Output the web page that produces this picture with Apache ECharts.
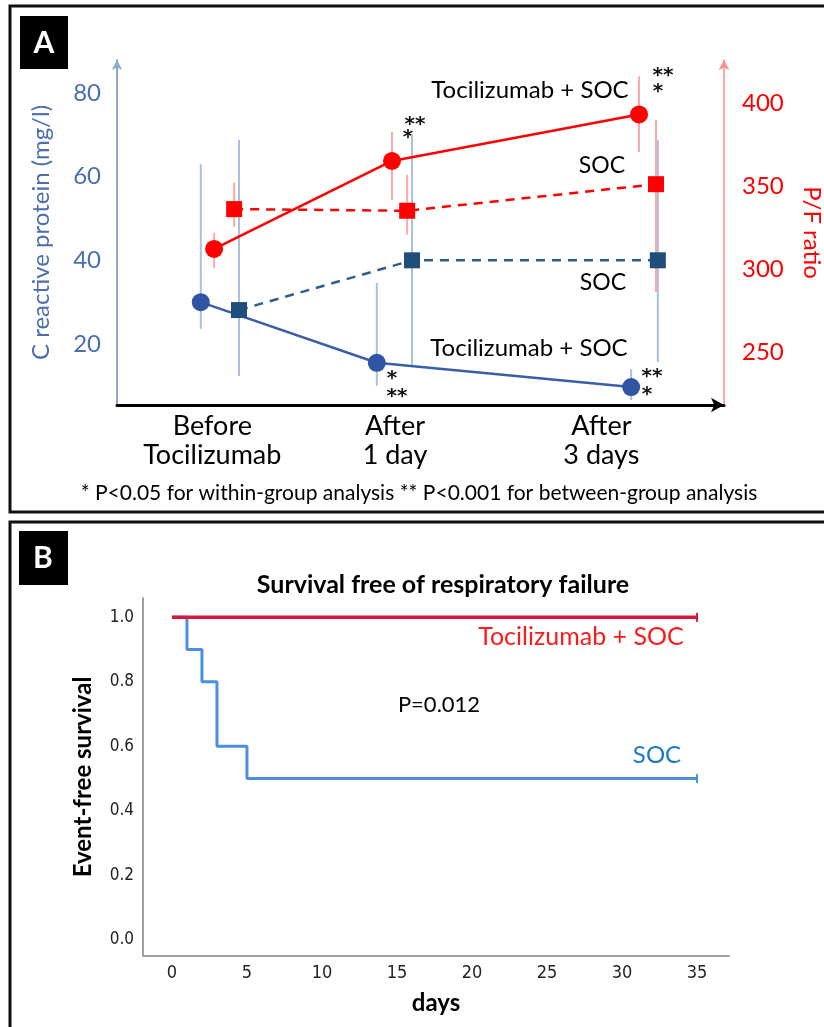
<!DOCTYPE html>
<html>
<head>
<meta charset="utf-8">
<script src="https://cdn.jsdelivr.net/npm/echarts@6.0.0/dist/echarts.min.js"></script>
<style>
html, body { margin: 0; padding: 0; background: #fff; }
#chart { width: 824px; height: 1027px; }
</style>
</head>
<body>
<div id="chart"></div>
<script>
// ---- Panel A data ----
const timepoints = ['Before\nTocilizumab', 'After\n1 day', 'After\n3 days'];

// C reactive protein (mg/l), mean with error bar ends
const crpToci = [30, 15.5, 9.7];
const crpTociLow = [23.6, 10, 6.6];
const crpTociHigh = [63, 34.6, 14];
const crpSoc = [28.1, 40, 40];
const crpSocLow = [12.3, 15, 15.7];
const crpSocHigh = [68.8, 70, 68.8];

// P/F ratio
const pfToci = [312, 365, 393];
const pfTociLow = [300.6, 341.6, 370.5];
const pfTociHigh = [321.7, 382.5, 416];
const pfSoc = [336, 335, 351];
const pfSocLow = [325.3, 320.5, 286];
const pfSocHigh = [351.8, 356.6, 389.8];

const crpTicks = [20, 40, 60, 80];
const pfTicks = [250, 300, 350, 400];

// ---- Panel B data (Kaplan-Meier) ----
const socDays = [0, 1, 2, 3, 5, 35];
const socSurvival = [1, 0.9, 0.8, 0.6, 0.5, 0.5];
const tociDays = [0, 35];
const tociSurvival = [1, 1];
const dayTicks = [0, 5, 10, 15, 20, 25, 30, 35];
const survivalTicks = [0, 0.2, 0.4, 0.6, 0.8, 1.0];

// layout of panel A along a 0..100 horizontal scale (hand-drawn spacing)
const groupX = [16, 45.3, 86];
const labelX = [15.7, 45.8, 79.8];
const shift = {
  crpToci: [-2.2, -2.5, -1.3],
  pfToci: [0, 0, 0],
  pfSoc: [3.3, 2.5, 2.8],
  crpSoc: [4.1, 3.3, 3.1],
};

const FONT = 'Lato, "Open Sans", sans-serif';
const CONDENSED = '"DejaVu Sans Condensed", "DejaVu Sans", sans-serif';
const blueAxis = '#4a6fae';
const red = '#ff0000';

const xsFor = (key) => groupX.map((g, i) => g + shift[key][i]);
const pts = (xs, ys) => xs.map((x, i) => [x, ys[i]]);

// vertical error bars drawn through the axes
const errorBars = (xs, lows, highs, yAxisIndex, color) => ({
  type: 'custom',
  xAxisIndex: 0,
  yAxisIndex: yAxisIndex,
  z: 1,
  silent: true,
  data: xs.map((x, i) => [x, lows[i], highs[i]]),
  renderItem: (params, api) => {
    const a = api.coord([api.value(0), api.value(1)]);
    const b = api.coord([api.value(0), api.value(2)]);
    return {
      type: 'line',
      shape: { x1: a[0], y1: a[1], x2: b[0], y2: b[1] },
      style: { stroke: color, lineWidth: 2 },
    };
  },
});

const text = (str, x, y, size, color, weight, family) => ({
  type: 'text',
  x: x,
  y: y,
  style: {
    text: str,
    fill: color || '#000',
    font: (weight || 'normal') + ' ' + size + 'px ' + (family || FONT),
    align: 'center',
    verticalAlign: 'middle',
  },
});
const star = (str, x, y) => text(str, x, y + 4, 20, '#111', 'bold', '"DejaVu Sans", sans-serif');

// km series with a censor tick on the last point
const kmData = (days, surv) =>
  days.map((d, i) =>
    i === days.length - 1
      ? { value: [d, surv[i]], symbol: 'rect', symbolSize: [2, 9] }
      : { value: [d, surv[i]], symbol: 'none' }
  );

const chart = echarts.init(document.getElementById('chart'));

const option = {
  animation: false,
  backgroundColor: '#fff',
  grid: [
    { left: 117, right: 100, top: 60, bottom: 622, outerBoundsMode: 'none' }, // panel A
    { left: 143, right: 95, top: 598, bottom: 71, outerBoundsMode: 'none' }, // panel B
  ],
  xAxis: [
    {
      type: 'value',
      gridIndex: 0,
      min: 0,
      max: 100,
      splitLine: { show: false },
      axisTick: { show: false },
      axisLine: {
        onZero: false,
        lineStyle: { color: '#000', width: 3 },
        symbol: ['none', 'arrow'],
        symbolSize: [11, 13],
      },
      axisLabel: {
        customValues: labelX,
        formatter: (v) => {
          let best = 0;
          labelX.forEach((p, i) => {
            if (Math.abs(p - v) < Math.abs(labelX[best] - v)) best = i;
          });
          return timepoints[best];
        },
        color: '#000',
        fontFamily: FONT,
        fontSize: 27,
        lineHeight: 29,
        margin: 7,
      },
    },
    {
      type: 'value',
      gridIndex: 1,
      min: -1.93,
      max: 37.13,
      splitLine: { show: false },
      axisTick: { show: false },
      axisLine: { onZero: false, lineStyle: { color: '#a0a0a0', width: 2 } },
      axisLabel: {
        customValues: dayTicks,
        color: '#222',
        fontFamily: CONDENSED,
        fontSize: 18,
        margin: 8,
      },
      name: 'days',
      nameLocation: 'middle',
      nameGap: 35,
      nameTextStyle: { color: '#000', fontFamily: FONT, fontSize: 24, fontWeight: 'bold' },
    },
  ],
  yAxis: [
    {
      type: 'value',
      gridIndex: 0,
      min: 5.4,
      max: 87.9,
      splitLine: { show: false },
      axisTick: { show: false },
      axisLine: {
        onZero: false,
        lineStyle: { color: '#8fa8cc', width: 2 },
        symbol: ['none', 'arrow'],
        symbolSize: [8, 10],
      },
      axisLabel: {
        customValues: crpTicks,
        color: blueAxis,
        fontFamily: FONT,
        fontSize: 24,
        margin: 16,
      },
      name: 'C reactive protein (mg/l)',
      nameLocation: 'middle',
      nameRotate: 90,
      nameGap: 64,
      nameTextStyle: { color: blueAxis, fontFamily: FONT, fontSize: 24 },
    },
    {
      type: 'value',
      gridIndex: 0,
      position: 'right',
      min: 218,
      max: 425.8,
      splitLine: { show: false },
      axisTick: { show: false },
      axisLine: {
        onZero: false,
        lineStyle: { color: '#ff8a8a', width: 1.5 },
        symbol: ['none', 'arrow'],
        symbolSize: [8, 10],
      },
      axisLabel: {
        customValues: pfTicks,
        color: red,
        fontFamily: FONT,
        fontSize: 24,
        margin: 18,
      },
      name: 'P/F ratio',
      nameLocation: 'middle',
      nameRotate: -90,
      nameGap: 76,
      nameTextStyle: { color: red, fontFamily: FONT, fontSize: 24 },
    },
    {
      type: 'value',
      gridIndex: 1,
      min: -0.05,
      max: 1.06,
      splitLine: { show: false },
      axisTick: { show: false },
      axisLine: { onZero: false, lineStyle: { color: '#a0a0a0', width: 2 } },
      axisLabel: {
        customValues: survivalTicks,
        formatter: (v) => v.toFixed(1),
        color: '#222',
        fontFamily: CONDENSED,
        fontSize: 17,
        margin: 9,
      },
      name: 'Event-free survival',
      nameLocation: 'middle',
      nameRotate: 90,
      nameGap: 48,
      nameTextStyle: { color: '#000', fontFamily: FONT, fontSize: 24, fontWeight: 'bold' },
    },
  ],
  series: [
    errorBars(xsFor('crpToci'), crpTociLow, crpTociHigh, 0, '#abc0dd'),
    errorBars(xsFor('crpSoc'), crpSocLow, crpSocHigh, 0, '#abc0dd'),
    errorBars(xsFor('pfToci'), pfTociLow, pfTociHigh, 1, '#ffa6a6'),
    errorBars(xsFor('pfSoc'), pfSocLow, pfSocHigh, 1, '#ffa6a6'),
    {
      name: 'CRP SOC',
      type: 'line',
      xAxisIndex: 0,
      yAxisIndex: 0,
      z: 3,
      data: pts(xsFor('crpSoc'), crpSoc),
      symbol: 'rect',
      symbolSize: 16,
      itemStyle: { color: '#1f4e79' },
      lineStyle: { color: '#2e5e8e', width: 2.5, type: [9, 7] },
    },
    {
      name: 'CRP Tocilizumab + SOC',
      type: 'line',
      xAxisIndex: 0,
      yAxisIndex: 0,
      z: 3,
      data: pts(xsFor('crpToci'), crpToci),
      symbol: 'circle',
      symbolSize: 18,
      itemStyle: { color: '#2f55a4' },
      lineStyle: { color: '#3a5ea8', width: 2.5 },
    },
    {
      name: 'P/F SOC',
      type: 'line',
      xAxisIndex: 0,
      yAxisIndex: 1,
      z: 4,
      data: pts(xsFor('pfSoc'), pfSoc),
      symbol: 'rect',
      symbolSize: 16,
      itemStyle: { color: red },
      lineStyle: { color: red, width: 2.5, type: [9, 7] },
    },
    {
      name: 'P/F Tocilizumab + SOC',
      type: 'line',
      xAxisIndex: 0,
      yAxisIndex: 1,
      z: 4,
      data: pts(xsFor('pfToci'), pfToci),
      symbol: 'circle',
      symbolSize: 18,
      itemStyle: { color: red },
      lineStyle: { color: red, width: 2.5 },
    },
    {
      name: 'SOC',
      type: 'line',
      xAxisIndex: 1,
      yAxisIndex: 2,
      step: 'end',
      z: 3,
      data: kmData(socDays, socSurvival),
      itemStyle: { color: '#4a90e2' },
      lineStyle: { color: '#4a90e2', width: 3 },
    },
    {
      name: 'Tocilizumab + SOC',
      type: 'line',
      xAxisIndex: 1,
      yAxisIndex: 2,
      z: 4,
      data: kmData(tociDays, tociSurvival),
      itemStyle: { color: '#d6173f' },
      lineStyle: { color: '#d6173f', width: 3.5 },
    },
  ],
  graphic: [
    // panel frames
    { type: 'rect', shape: { x: 10, y: 6, width: 840, height: 506 }, style: { fill: null, stroke: '#111', lineWidth: 3 } },
    { type: 'rect', shape: { x: 10, y: 522, width: 840, height: 540 }, style: { fill: null, stroke: '#111', lineWidth: 3 } },
    // panel letters
    { type: 'rect', shape: { x: 20, y: 16, width: 48, height: 53 }, style: { fill: '#000' } },
    text('A', 44, 43, 30, '#fff', 'bold'),
    { type: 'rect', shape: { x: 19, y: 531, width: 49, height: 54 }, style: { fill: '#000' } },
    text('B', 43, 558, 30, '#fff', 'bold'),
    // panel A annotations
    text('Tocilizumab + SOC', 530, 90, 24),
    text('SOC', 602, 166, 23),
    text('SOC', 603, 283, 23),
    text('Tocilizumab + SOC', 529, 348, 24),
    star('**', 415, 121),
    star('*', 408, 134),
    star('**', 663, 72),
    star('*', 658, 88),
    star('*', 392, 375),
    star('**', 397, 393),
    star('**', 652, 373),
    star('*', 647, 391),
    text('* P<0.05 for within-group analysis ** P<0.001 for between-group analysis', 419, 493, 21),
    // panel B annotations
    text('Survival free of respiratory failure', 443, 585, 25, '#000', 'bold'),
    text('Tocilizumab + SOC', 581, 637, 25, '#ff1a1a'),
    text('P=0.012', 439, 705, 22),
    text('SOC', 657, 755, 24, '#1e78c8'),
  ],
};

chart.setOption(option);
</script>
</body>
</html>
